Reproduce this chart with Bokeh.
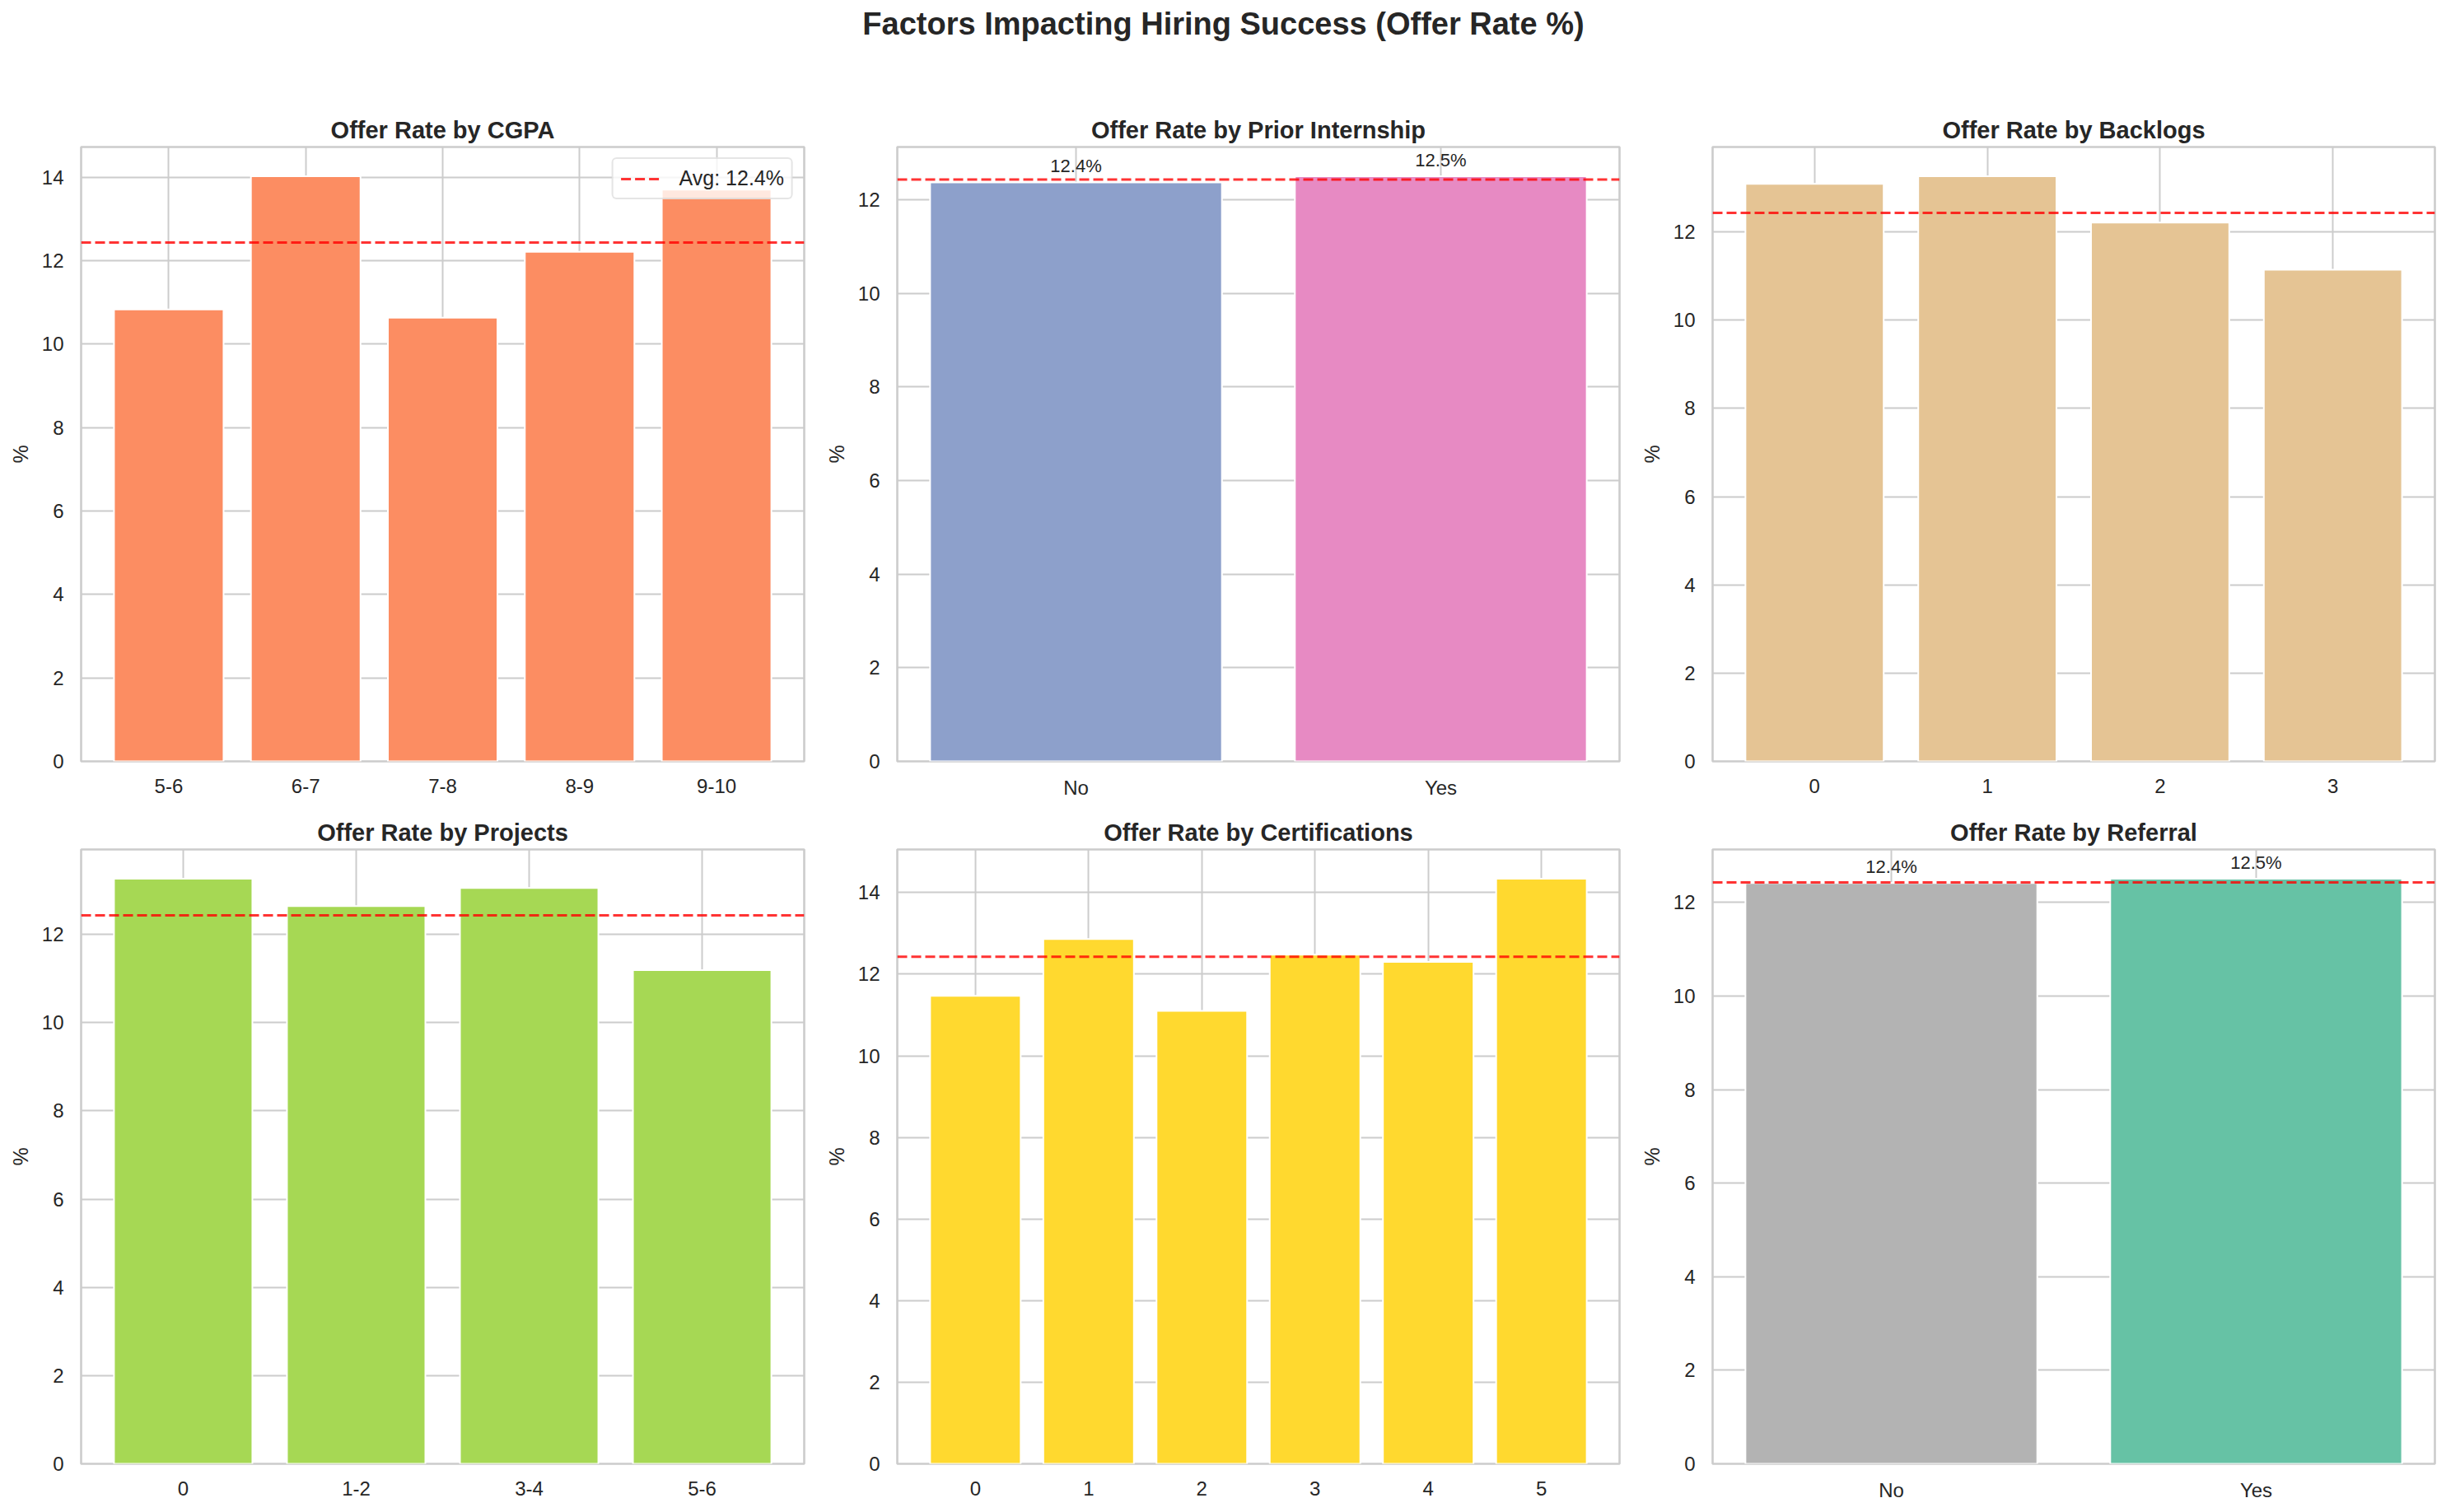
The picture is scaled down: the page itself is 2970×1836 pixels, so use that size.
from bokeh.embed import file_html
from bokeh.resources import INLINE
from bokeh.plotting import figure
from bokeh.layouts import column, row
from bokeh.models import FactorRange, Range1d, FixedTicker, ColumnDataSource, Legend
from bokeh.core.properties import value

suptitle = "Factors Impacting Hiring Success (Offer Rate %)"
avg_rate = 12.43
avg_label = "Avg: 12.4%"

cgpa_cats = ["5-6", "6-7", "7-8", "8-9", "9-10"]
cgpa_vals = [10.83, 14.02, 10.63, 12.21, 13.70]
cgpa_cols = ["#fc8d62"] * 5

intern_cats = ["No", "Yes"]
intern_vals = [12.37, 12.50]
intern_cols = ["#8da0cb", "#e78ac3"]

backlog_cats = ["0", "1", "2", "3"]
backlog_vals = [13.09, 13.26, 12.21, 11.14]
backlog_cols = ["#e5c494"] * 4

project_cats = ["0", "1-2", "3-4", "5-6"]
project_vals = [13.26, 12.64, 13.05, 11.19]
project_cols = ["#a6d854"] * 4

cert_cats = ["0", "1", "2", "3", "4", "5"]
cert_vals = [11.47, 12.86, 11.10, 12.48, 12.30, 14.34]
cert_cols = ["#ffd92f"] * 6

referral_cats = ["No", "Yes"]
referral_vals = [12.42, 12.51]
referral_cols = ["#b3b3b3", "#66c2a5"]

y_ticks = [0, 2, 4, 6, 8, 10, 12, 14]

FONT = "Liberation Sans"
INK = "#262626"
GRID = "#cccccc"


def panel(title, cats, vals, cols, width=990, height=853, left=90, right=22,
          labels=False, legend=False):
    pad = (0.1 * len(cats) - 0.22) / 2
    x_range = FactorRange(factors=cats, factor_padding=0.0, group_padding=0.0,
                          range_padding=pad, range_padding_units="absolute")
    p = figure(width=width, height=height, x_range=x_range,
               y_range=Range1d(0, max(vals) * 1.05), title=title,
               output_backend="svg", toolbar_location=None,
               min_border_left=left, min_border_right=right,
               min_border_top=50, min_border_bottom=height - 796)
    p.title.align = "center"
    p.title.text_font = FONT
    p.title.text_font_size = "29px"
    p.title.text_font_style = "bold"
    p.title.text_color = INK
    p.title.standoff = 9
    p.outline_line_color = GRID
    p.outline_line_width = 2.6
    p.outline_line_alpha = 1
    p.background_fill_color = "white"
    p.border_fill_color = "white"
    for g in (p.xgrid[0], p.ygrid[0]):
        g.grid_line_color = GRID
        g.grid_line_width = 2
    p.ygrid[0].ticker = FixedTicker(ticks=y_ticks)
    p.yaxis.ticker = FixedTicker(ticks=y_ticks)
    for a in (p.xaxis[0], p.yaxis[0]):
        a.axis_line_color = None
        a.major_tick_line_color = None
        a.minor_tick_line_color = None
        a.major_tick_in = 0
        a.major_tick_out = 0
        a.major_label_text_font = FONT
        a.major_label_text_font_size = "24px"
        a.major_label_text_color = INK
    p.xaxis[0].major_label_standoff = 18 if labels else 21
    p.xaxis[0].major_label_orientation = "horizontal"
    p.yaxis[0].major_label_standoff = 21
    p.yaxis[0].axis_label = "%"
    p.yaxis[0].axis_label_text_font = FONT
    p.yaxis[0].axis_label_text_font_size = "25px"
    p.yaxis[0].axis_label_text_font_style = "normal"
    p.yaxis[0].axis_label_text_color = INK
    p.yaxis[0].axis_label_standoff = 9

    src = ColumnDataSource(dict(x=cats, top=vals, color=cols,
                                label=[f"{v:.1f}%" for v in vals]))
    p.vbar(x="x", top="top", bottom=0, width=0.8, source=src,
           fill_color="color", line_color="white", line_width=2)
    # numbers on a factor range are synthetic coordinates: this spans the whole frame
    rule = p.line(x=[-pad, len(cats) + pad], y=[avg_rate, avg_rate], line_color="red",
                  line_alpha=0.8, line_width=3, line_dash=[12, 5])
    if labels:
        p.text(x="x", y="top", text="label", source=src, text_align="center",
               text_baseline="alphabetic", y_offset=-20, text_font=value(FONT),
               text_font_size="22px", text_color=INK)
    if legend:
        lg = Legend(items=[(avg_label, [rule])], location="top_right",
                    label_text_font=FONT, label_text_font_size="25px",
                    label_text_color=INK, border_line_color=GRID, border_line_width=2,
                    background_fill_alpha=0.8, margin=13, padding=9, spacing=0,
                    glyph_width=51, glyph_height=24, label_standoff=20)
        if "border_radius" in Legend.properties():
            lg.border_radius = 6
        p.add_layout(lg, "center")
    return p


head = figure(width=2970, height=128, title=suptitle, output_backend="svg",
              toolbar_location=None, x_axis_location=None, y_axis_location=None,
              min_border_left=0, min_border_right=0, min_border_top=0, min_border_bottom=0)
head.outline_line_color = None
head.grid.visible = False
head.title.align = "center"
head.title.text_font = FONT
head.title.text_font_size = "38px"
head.title.text_font_style = "bold"
head.title.text_color = INK
head.title.offset = 0

r1 = row(
    panel("Offer Rate by CGPA", cgpa_cats, cgpa_vals, cgpa_cols, width=998, left=98, legend=True),
    panel("Offer Rate by Prior Internship", intern_cats, intern_vals, intern_cols, labels=True),
    panel("Offer Rate by Backlogs", backlog_cats, backlog_vals, backlog_cols, width=974, right=6),
    spacing=0,
)
r2 = row(
    panel("Offer Rate by Projects", project_cats, project_vals, project_cols,
          width=998, left=98, height=846),
    panel("Offer Rate by Certifications", cert_cats, cert_vals, cert_cols, height=846),
    panel("Offer Rate by Referral", referral_cats, referral_vals, referral_cols,
          width=974, height=846, right=6, labels=True),
    spacing=0,
)
page = column(head, r1, r2, spacing=0)
open("out.html", "w").write(file_html(page, INLINE))
